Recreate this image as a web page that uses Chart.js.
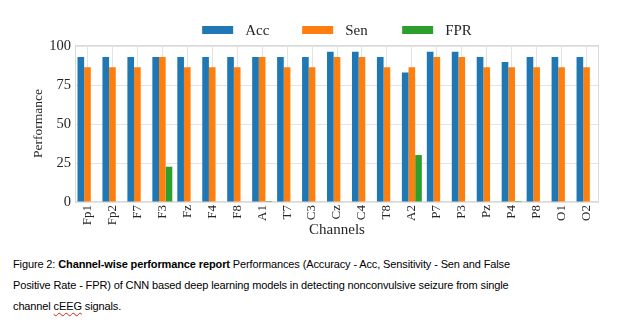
<!DOCTYPE html>
<html>
<head>
<meta charset="utf-8">
<script src="https://cdn.jsdelivr.net/npm/chart.js@4"></script>
<style>
  html, body { margin: 0; padding: 0; background: #fff; }
  body { width: 631px; height: 325px; position: relative; overflow: hidden; }
  #chart { position: absolute; left: 0; top: 0; }
  #caption {
    position: absolute; left: 13px; top: 254px;
    font-family: "Liberation Sans", Arial, sans-serif; font-size: 11px;
    color: #000; white-space: nowrap;
  }
  #caption div { height: 21px; line-height: 21px; }
  .sq { text-decoration: underline wavy #d21; text-decoration-thickness: 1px; text-underline-offset: 2px; }
</style>
</head>
<body>
<canvas id="chart" width="631" height="245"></canvas>
<div id="caption">
  <div><span id="l1">Figure 2: <b>Channel-wise performance report</b> Performances (Accuracy - Acc, Sensitivity - Sen and False</span></div>
  <div><span>Positive Rate - FPR) of CNN based deep learning models in detecting nonconvulsive seizure from single</span></div>
  <div><span>channel <span class="sq">cEEG</span> signals.</span></div>
</div>
<script>
// EEG channels and per-channel scores (%)
const channels = ['Fp1', 'Fp2', 'F7', 'F3', 'Fz', 'F4', 'F8', 'A1', 'T7', 'C3', 'Cz',
                  'C4', 'T8', 'A2', 'P7', 'P3', 'Pz', 'P4', 'P8', 'O1', 'O2'];
const acc = [93.3, 93.3, 93.3, 93.3, 93.3, 93.3, 93.3, 93.3, 93.3, 93.3, 96.7,
             96.7, 93.3, 83.3, 96.7, 96.7, 93.3, 90.0, 93.3, 93.3, 93.3];
const sen = [86.7, 86.7, 86.7, 93.3, 86.7, 86.7, 86.7, 93.3, 86.7, 86.7, 93.3,
             93.3, 86.7, 86.7, 93.3, 93.3, 86.7, 86.7, 86.7, 86.7, 86.7];
const fpr = [0, 0, 0, 22.7, 0, 0, 0, 0.6, 0, 0, 0,
             0, 0, 30.2, 0, 0, 0, 0.6, 0, 0, 0];
const seriesNames = ['Acc', 'Sen', 'FPR'];
const yTickValues = [0, 25, 50, 75, 100];

const palette = ['#1f77b4', '#ff7f0e', '#2ca02c'];
const SERIF = '"Liberation Serif", "Times New Roman", serif';
const INK = '#262626';
const GRID = '#e3e3e3';

// Tighten the caption's letter spacing so the first line spans the text block
(function () {
  const cap = document.getElementById('caption');
  const line = document.getElementById('l1');
  const w = line.getBoundingClientRect().width;
  const n = line.textContent.length;
  cap.style.letterSpacing = ((497 - w) / n).toFixed(3) + 'px';
})();

// Light frame around the plotting area
const frame = {
  id: 'frame',
  beforeDatasetsDraw(chart) {
    const { ctx, chartArea: a } = chart;
    ctx.save();
    ctx.strokeStyle = '#dadada';
    ctx.lineWidth = 1;
    ctx.strokeRect(Math.round(a.left) + 0.5, Math.round(a.top) + 0.5,
                   Math.round(a.width) - 1, Math.round(a.height) - 1);
    ctx.restore();
  }
};

// Single-row legend with evenly spaced entries above the plot
const legendRow = {
  id: 'legendRow',
  afterDraw(chart) {
    const { ctx, chartArea: a } = chart;
    const ds = chart.data.datasets;
    ctx.save();
    ctx.font = '15px ' + SERIF;
    const step = 100, box = 31, gap = 12, y = 30;
    const lastW = ctx.measureText(ds[ds.length - 1].label).width;
    const total = step * (ds.length - 1) + box + gap + lastW;
    const x0 = (a.left + a.right) / 2 - total / 2;
    ds.forEach((d, i) => {
      const x = x0 + i * step;
      ctx.fillStyle = d.backgroundColor;
      ctx.fillRect(x, y - 4, box, 8);
      ctx.fillStyle = INK;
      ctx.textBaseline = 'middle';
      ctx.fillText(d.label, x + box + gap, y + 1);
    });
    ctx.restore();
  }
};

new Chart(document.getElementById('chart'), {
  type: 'bar',
  data: {
    labels: channels,
    datasets: [acc, sen, fpr].map((vals, i) => ({
      label: seriesNames[i],
      data: vals,
      backgroundColor: palette[i],
      borderWidth: 0,
      categoryPercentage: 0.8,
      barPercentage: 1.0
    }))
  },
  options: {
    responsive: false,
    animation: false,
    layout: { padding: { left: 0, right: 32, top: 45, bottom: 0 } },
    plugins: { legend: { display: false }, tooltip: { enabled: false } },
    scales: {
      x: {
        grid: { offset: false, color: GRID, drawTicks: false },
        border: { display: false },
        ticks: {
          autoSkip: false, maxRotation: 90, minRotation: 90, padding: 3,
          color: INK, font: { family: SERIF, size: 13 }
        },
        title: {
          display: true, text: 'Channels', color: INK,
          font: { family: SERIF, size: 15 }, padding: { top: 0, bottom: 6 }
        },
        afterFit(s) { s.height = 43; }
      },
      y: {
        min: 0, max: 101,
        afterBuildTicks(s) { s.ticks = yTickValues.map(v => ({ value: v })); },
        grid: { color: GRID, drawTicks: false },
        border: { display: false },
        ticks: { padding: 4, color: INK, font: { family: SERIF, size: 14.5 } },
        title: {
          display: true, text: 'Performance', color: INK,
          font: { family: SERIF, size: 13.5 }, padding: { top: 30, bottom: 0 }
        },
        afterFit(s) { s.width = 75; }
      }
    }
  },
  plugins: [frame, legendRow]
});
</script>
</body>
</html>
